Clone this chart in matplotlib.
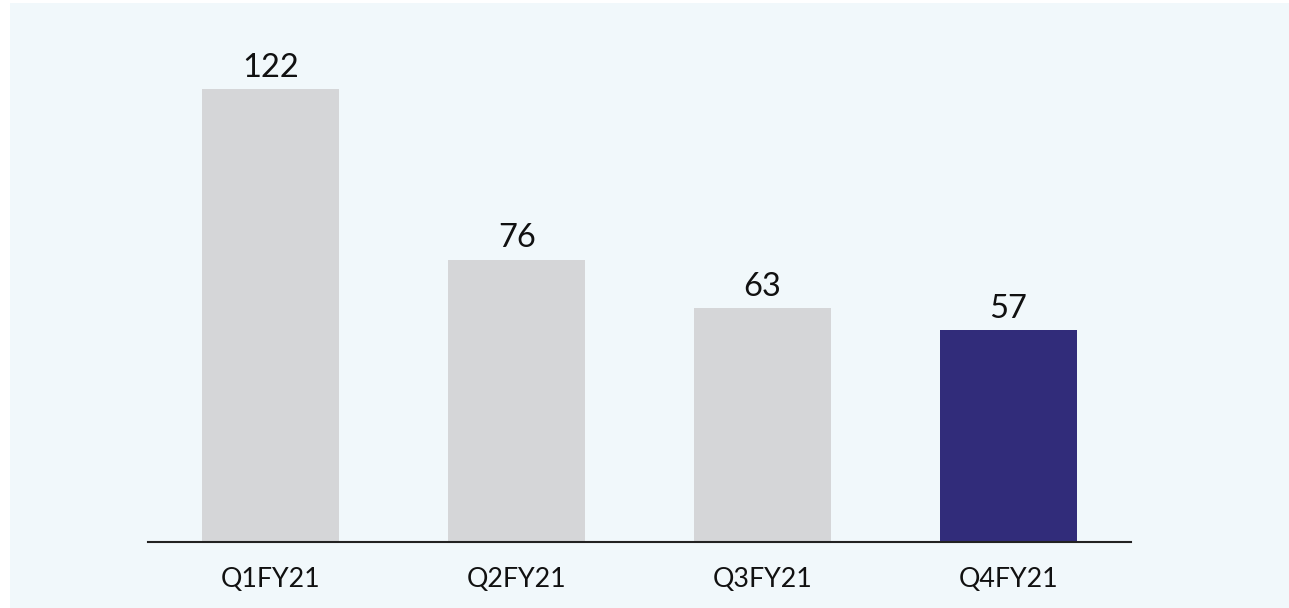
import matplotlib
matplotlib.use("Agg")
import matplotlib.pyplot as plt
from matplotlib.patches import Rectangle

categories = ["Q1FY21", "Q2FY21", "Q3FY21", "Q4FY21"]
values = [122, 76, 63, 57]
colors = ["#D5D6D8", "#D5D6D8", "#D5D6D8", "#312C7A"]

plt.rcParams['font.family'] = ['Lato', 'DejaVu Sans']

W, H = 1289, 608
fig = plt.figure(figsize=(W/100, H/100), dpi=100, facecolor="white")
fig.patches.append(Rectangle((10/W, 0), 1 - 10/W, 1 - 3/H, transform=fig.transFigure,
                             facecolor="#F1F8FB", edgecolor="none", zorder=-10))

ax = fig.add_axes([148/W, 1 - 542/H, (1131-148)/W, 520/H])
ax.set_zorder(5)
ax.set_facecolor("none")
x = range(len(categories))
bars = ax.bar(x, values, width=0.557, color=colors)
ax.set_xlim(-0.5, 3.5)
ax.set_ylim(0, 140)
for b, v in zip(bars, values):
    ax.annotate(str(v), (b.get_x() + b.get_width()/2, v), xytext=(0, 4.5),
                textcoords="offset points", ha="center", va="bottom",
                fontsize=23.5, color="#111111")
ax.set_xticks(list(x))
ax.set_xticklabels(categories, fontsize=19.3, color="#111111")
ax.tick_params(axis="x", length=0, pad=18)
ax.set_yticks([])
for s in ["top", "right", "left"]:
    ax.spines[s].set_visible(False)
ax.spines["bottom"].set_linewidth(1.5)
ax.spines["bottom"].set_color("#222222")

fig.savefig("out.png", dpi=100, facecolor=fig.get_facecolor())
